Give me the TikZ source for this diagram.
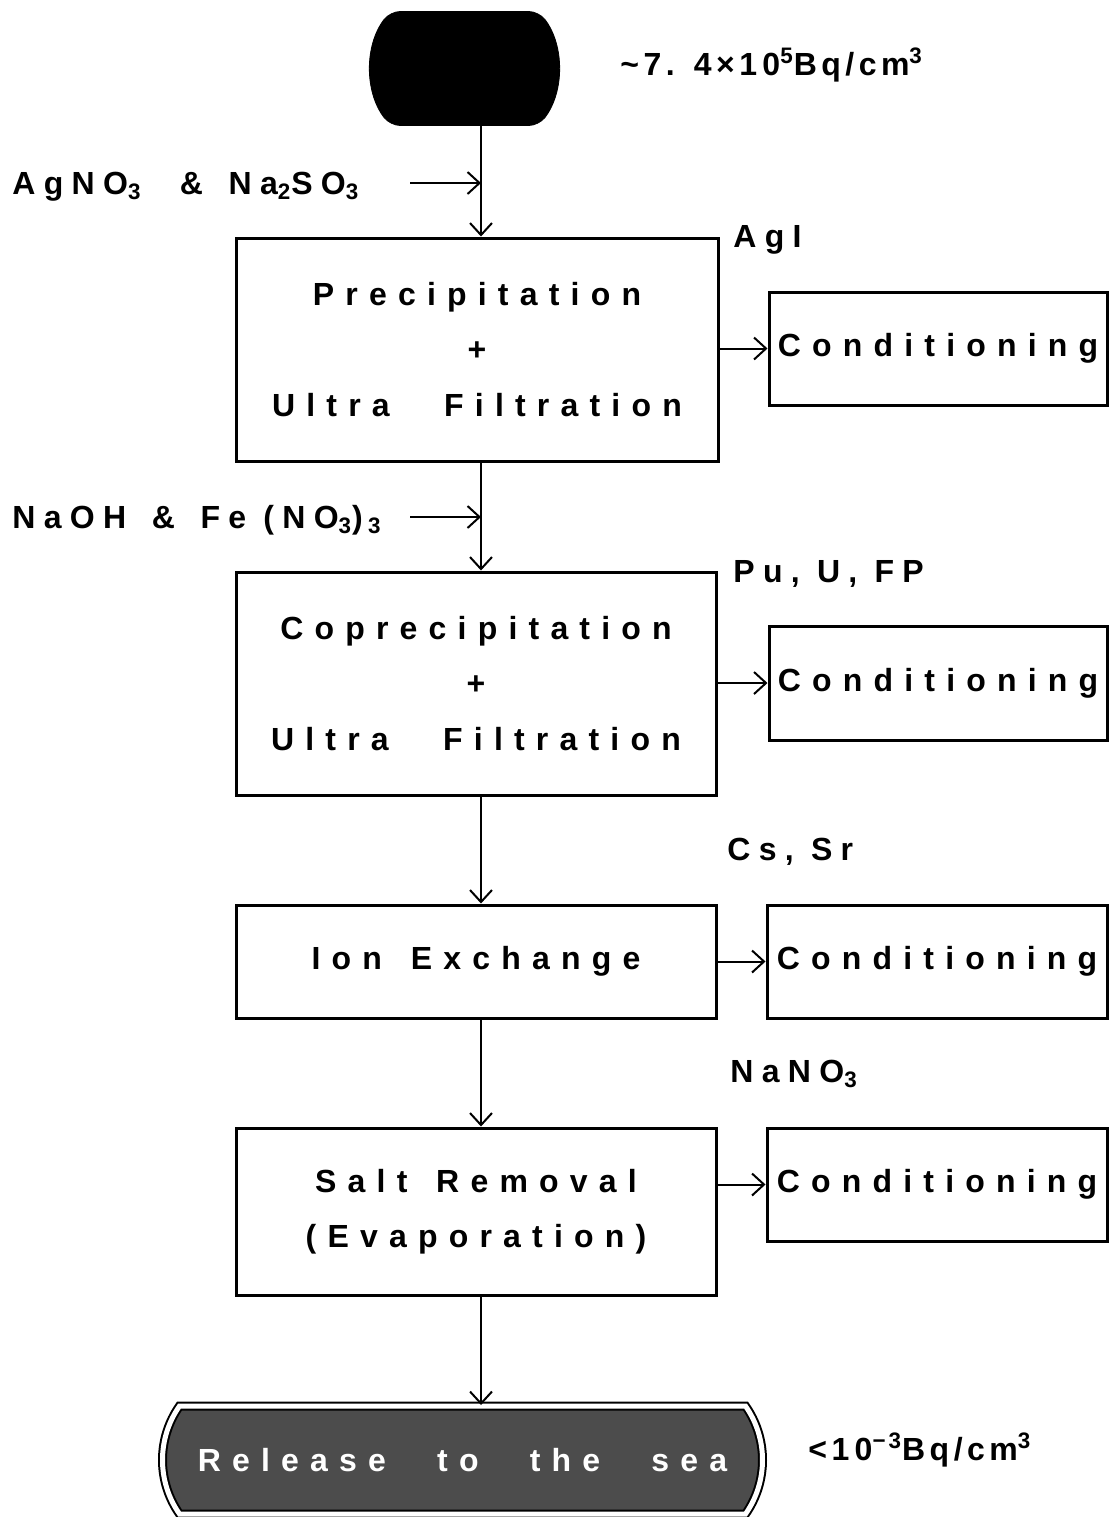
\documentclass[tikz,border=0pt]{standalone}
\usepackage{fontspec}
\setmainfont{Liberation Sans}
\newfontfamily\boxfont{Liberation Sans}[LetterSpace=35]
\newfontfamily\lblfont{Liberation Sans}[LetterSpace=26]
\newfontfamily\concfont{Liberation Sans}[LetterSpace=14]
\usetikzlibrary{arrows.meta,shapes.misc}
\newcommand\wsp{\hspace{0.9em}}
\tikzset{
  proc/.style={draw, line width=1.5pt, rectangle, inner sep=0pt, align=center,
    font=\boxfont\fontsize{16}{27.75}\selectfont\bfseries},
  cond/.style={proc, minimum width=169pt, minimum height=56.5pt},
  lbl/.style={inner sep=0pt, anchor=west, font=\lblfont\fontsize{16}{20}\selectfont\bfseries},
  conc/.style={lbl, font=\concfont\fontsize{16}{20}\selectfont\bfseries},
  arr/.style={line width=1pt, -{Straight Barb[length=6pt,width=11pt,line width=1pt]}},
}
\begin{document}
\begin{tikzpicture}[x=0.5pt,y=-0.5pt]
\useasboundingbox (0,0) rectangle (1109,1517);
% vertical trunk
\coordinate (mainx) at (481,0);
% top source
\node (top) [rounded rectangle, rounded rectangle arc length=75, fill=black, draw=black,
  rounded corners=5pt, minimum width=92.5pt, minimum height=57pt, inner sep=0pt] at (464.5,68.5) {};
\node (conc1) [conc] at (620,65) {\textasciitilde 7.\hspace{0.6em}4×1\,0\textsuperscript{5}Bq/cm\textsuperscript{3}};
% boxes
\node (b1) [proc, minimum width=241pt, minimum height=111.5pt] at (477,349.5)
  {Precipitation\\+\\Ultra\hspace{1.7em}Filtration};
\node (b2) [proc, minimum width=240pt, minimum height=111.5pt] at (476,683.5)
  {Coprecipitation\\+\\Ultra\hspace{1.7em}Filtration};
\node (b3) [proc, minimum width=240pt, minimum height=56.5pt] at (476,961.5)
  {Ion\wsp Exchange};
\node (b4) [proc, minimum width=240pt, minimum height=83.5pt] at (476,1211.5)
  {Salt\wsp Removal\\(Evaporation)};
% conditioning
\node (c1) [cond] at (938,348.5) {Conditioning};
\node (c2) [cond, minimum height=57pt] at (938,683) {Conditioning};
\node (c3) [cond, minimum width=170pt] at (937,961.5) {Conditioning};
\node (c4) [cond, minimum width=170pt] at (937,1184.5) {Conditioning};
% bottom
\node (bot) [rounded rectangle, rounded rectangle arc length=70, draw=black, line width=1pt,
  double=white, double distance=2.5pt, fill=black!70, text=white,
  minimum width=300pt, minimum height=54pt, inner sep=0pt,
  font=\boxfont\fontsize{16}{20}\selectfont\bfseries] at (462.5,1460)
  {Release\hspace{1.6em}to\hspace{1.6em}the\hspace{1.6em}sea};
\node (conc2) [conc] at (808,1450) {<1\,0\textsuperscript{−3}Bq/cm\textsuperscript{3}};
% side labels
\node (r1) [lbl] at (12,187) {AgNO\textsubscript{3}\hspace{1.2em}\&\hspace{0.8em}Na\textsubscript{2}SO\textsubscript{3}};
\node (r2) [lbl] at (12,520) {NaOH\hspace{0.8em}\&\hspace{0.8em}Fe (NO\textsubscript{3})\,\textsubscript{3}};
\node (p1) [lbl] at (733,240) {AgI};
\node (p2) [lbl] at (733,574) {Pu,\ U,\ FP};
\node (p3) [lbl] at (727,852) {Cs,\ Sr};
\node (p4) [lbl] at (730,1074) {NaNO\textsubscript{3}};
% input arrow tails
\coordinate (i1) at (410,183);
\coordinate (i2) at (410,517);
% trunk arrows
\draw[arr] (top.south -| mainx) -- (b1.north -| mainx);
\draw[arr] (b1.south -| mainx) -- (b2.north -| mainx);
\draw[arr] (b2.south -| mainx) -- (b3.north -| mainx);
\draw[arr] (b3.south -| mainx) -- (b4.north -| mainx);
\draw[arr] (b4.south -| mainx) -- (bot.north -| mainx);
% inputs
\draw[arr] (i1) -- (i1 -| mainx);
\draw[arr] (i2) -- (i2 -| mainx);
% side arrows
\draw[arr] (b1.east |- c1.west) -- (c1.west);
\draw[arr] (b2.east |- c2.west) -- (c2.west);
\draw[arr] (b3.east |- c3.west) -- (c3.west);
\draw[arr] (b4.east |- c4.west) -- (c4.west);
\end{tikzpicture}
\end{document}
